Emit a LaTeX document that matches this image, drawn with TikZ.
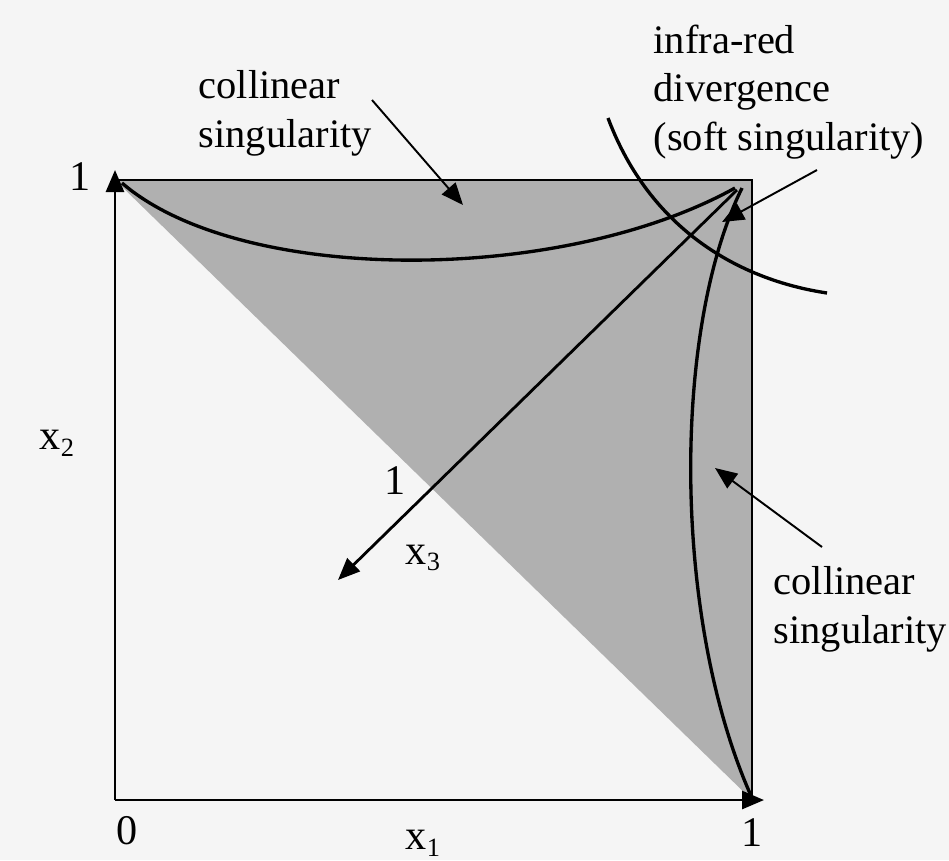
\documentclass[tikz,border=0pt]{standalone}
\usepackage{fontspec}
\setmainfont{Liberation Serif}
\usetikzlibrary{arrows.meta}
\newcommand{\xsub}[1]{x\raisebox{-0.35ex}{\fontsize{7.5}{8}\selectfont #1}}

\begin{document}
\begin{tikzpicture}[x=0.01cm, y=-0.01cm,
  lbl/.style={font=\fontsize{11.5}{13.8}\selectfont, align=left, inner sep=0pt},
  num/.style={font=\fontsize{12}{14}\selectfont, inner sep=0pt},
  axis/.style={-{Triangle[length=2.2mm, width=1.8mm]}, line width=0.8pt},
  curve/.style={line width=0.95pt},
  pointer/.style={-{Triangle[length=2.2mm, width=1.8mm]}, line width=0.55pt}
  ]
  % page and frame
  \fill[black!4] (0,0) rectangle (949,860);
  \useasboundingbox (0,0) rectangle (949,860);
  \coordinate (o) at (115,800);
  \coordinate (tl) at (115,180);
  \coordinate (tr) at (752,180);
  \coordinate (br) at (752,800);

  % physical region
  \fill[black!31] (tl) -- (tr) -- (br) -- cycle;
  \draw[line width=0.8pt] (tl) -- (tr) -- (br);
  \draw[axis] (o) -- (115,170);
  \draw[axis] (o) -- (764,800);

  % singular lines
  \draw[curve] (122,183) .. controls (240,285) and (560,285) .. (735,188);
  \draw[curve] (752,798) .. controls (672,620) and (672,330) .. (742,188);
  \draw[curve] (608,118) .. controls (650,230) and (740,280) .. (827,293);
  \coordinate (x3start) at (737,190);
  \coordinate (x3end) at (338,580);
  \draw[axis] (x3start) -- (x3end);

  % labels
  \node (coltop) [lbl, anchor=north west] at (198,70) {collinear\\singularity};
  \node (ird) [lbl, anchor=north west] at (653,24) {infra-red\\divergence\\(soft singularity)};
  \node (colright) [lbl, anchor=north west] at (773,566) {collinear\\singularity};
  \node (one2) [num] at (80,177) {1};
  \node (zero) [num] at (127,831) {0};
  \node (one1) [num] at (752,833) {1};
  \node (one3) [num] at (395,481) {1};
  \node (xone) [num] at (423,843) {\xsub{1}};
  \node (xtwo) [num] at (57,443) {\xsub{2}};
  \node (xthree) [num] at (423,558) {\xsub{3}};

  % pointers
  \coordinate (coltip) at (463,205);
  \coordinate (irdtip) at (722,222);
  \coordinate (colrtip) at (715,468);
  \draw[pointer] (372,100) -- (coltip);
  \draw[pointer] (817,170) -- (irdtip);
  \draw[pointer] (822,547) -- (colrtip);
\end{tikzpicture}
\end{document}
